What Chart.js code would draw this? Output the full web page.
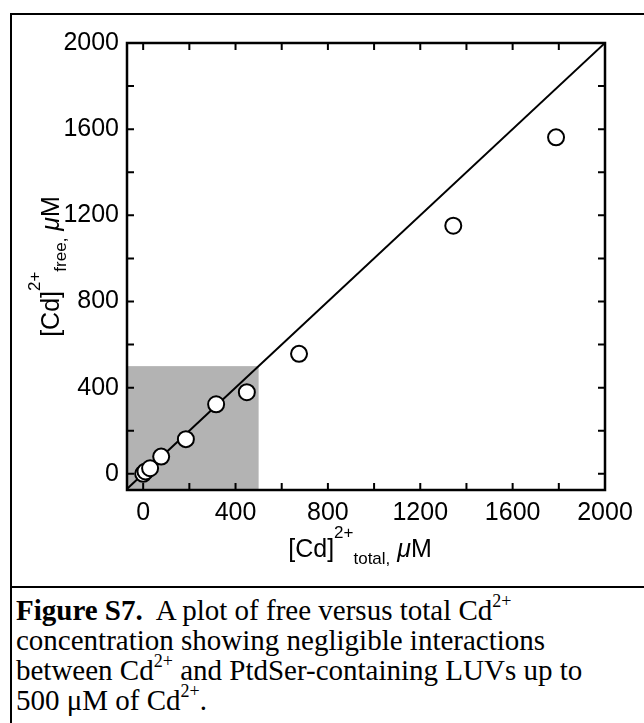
<!DOCTYPE html>
<html>
<head>
<meta charset="utf-8">
<script src="https://cdn.jsdelivr.net/npm/chart.js@4.4.1/dist/chart.umd.min.js"></script>
<style>
  html, body { margin: 0; padding: 0; background: #fff; }
  body { width: 644px; height: 723px; position: relative; overflow: hidden; }
  #chart { position: absolute; left: 0; top: 0; }
  #frame { position: absolute; left: 10px; top: 13px; width: 700px; height: 760px; border: 2px solid #000; }
  #sep { position: absolute; left: 10px; top: 586px; width: 640px; height: 2px; background: #000; }
  #caption { position: absolute; left: 16px; top: 595px; font-family: "Liberation Serif", "Times New Roman", serif;
             font-size: 29px; line-height: 30px; white-space: nowrap; color: #000; }
  #caption sup { font-size: 18px; line-height: 0; position: relative; top: -13px; vertical-align: baseline; }
</style>
</head>
<body>
<div id="frame"></div>
<div id="sep"></div>
<canvas id="chart" width="644" height="587"></canvas>
<div id="caption"><b>Figure S7.</b>&nbsp; A plot of free versus total Cd<sup>2+</sup><br>concentration showing negligible interactions<br>between Cd<sup>2+</sup> and PtdSer-containing LUVs up to<br>500 μM of Cd<sup>2+</sup>.</div>
<script>
// [Cd]2+ total vs free, uM
const totalCd = [0, 10, 30, 78, 185, 316, 449, 675, 1343, 1788];
const freeCd = [0, 11, 26, 80, 161, 323, 379, 557, 1152, 1562];
const tickValues = [0, 200, 400, 600, 800, 1000, 1200, 1400, 1600, 1800, 2000];
const labelStep = 400;
const shadeLimit = 500;

const sans = '"Liberation Sans", Arial, sans-serif';

let points = []
for (let i = 0; i < totalCd.length; i++)
    points.push({x: totalCd[i], y: freeCd[i]})

function setTicks(scale) {
    scale.ticks = tickValues.map(v => ({value: v}))
}

function tickLabel(v) {
    return v % labelStep === 0 ? String(v) : ''
}

function drawRich(ctx, pieces) {
    let w = 0
    for (const p of pieces) {
        ctx.font = p.f
        w += ctx.measureText(p.t).width
    }
    let x = -w / 2
    for (const p of pieces) {
        ctx.font = p.f
        ctx.fillText(p.t, x, p.dy || 0)
        x += ctx.measureText(p.t).width
    }
}

function titlePieces(sub) {
    return [
        {t: '[Cd]', f: '25px ' + sans},
        {t: '2+', f: '17px ' + sans, dy: -19},
        {t: sub + ',', f: '17px ' + sans, dy: 7},
        {t: ' ', f: '25px ' + sans},
        {t: 'μ', f: 'italic 25px ' + sans},
        {t: 'M', f: '25px ' + sans}
    ]
}

const framePlugin = {
    id: 'framePlugin',
    beforeDatasetsDraw(chart) {
        const {ctx, chartArea, scales} = chart
        const x0 = chartArea.left
        const x1 = scales.x.getPixelForValue(shadeLimit)
        const y1 = scales.y.getPixelForValue(shadeLimit)
        ctx.save()
        ctx.fillStyle = '#b3b3b3'
        ctx.fillRect(x0, y1, x1 - x0, chartArea.bottom - y1)
        ctx.restore()
    },
    afterDatasetsDraw(chart) {
        const {ctx, chartArea, scales} = chart
        const len = 7
        ctx.save()
        ctx.strokeStyle = '#000'
        ctx.lineWidth = 2
        ctx.beginPath()
        for (const v of tickValues) {
            const px = scales.x.getPixelForValue(v)
            ctx.moveTo(px, chartArea.bottom); ctx.lineTo(px, chartArea.bottom - len)
            ctx.moveTo(px, chartArea.top); ctx.lineTo(px, chartArea.top + len)
            const py = scales.y.getPixelForValue(v)
            ctx.moveTo(chartArea.left, py); ctx.lineTo(chartArea.left + len, py)
            ctx.moveTo(chartArea.right, py); ctx.lineTo(chartArea.right - len, py)
        }
        ctx.stroke()
        ctx.lineWidth = 2.5
        ctx.strokeRect(chartArea.left, chartArea.top, chartArea.right - chartArea.left, chartArea.bottom - chartArea.top)
        ctx.restore()
    },
    afterDraw(chart) {
        const {ctx, chartArea} = chart
        ctx.save()
        ctx.fillStyle = '#000'
        ctx.textBaseline = 'alphabetic'
        ctx.textAlign = 'left'
        // x title
        ctx.save()
        ctx.translate((chartArea.left + chartArea.right) / 2 - 6, 557)
        drawRich(ctx, titlePieces('total'))
        ctx.restore()
        // y title
        ctx.save()
        ctx.translate(59, (chartArea.top + chartArea.bottom) / 2)
        ctx.rotate(-Math.PI / 2)
        drawRich(ctx, titlePieces('free'))
        ctx.restore()
        ctx.restore()
    }
}

const data = {
    datasets: [{
            label: 'points',
            data: points,
            pointRadius: 8,
            pointBorderWidth: 2,
            pointBackgroundColor: '#fff',
            pointBorderColor: '#000',
            showLine: false
        }, {
            label: 'y = x',
            data: [{x: -75, y: -75}, {x: 2000, y: 2000}],
            showLine: true,
            borderColor: '#000',
            borderWidth: 2,
            pointRadius: 0
        }]
};

const config = {
    type: 'scatter',
    data: data,
    options: {
        responsive: false,
        animation: false,
        layout: {padding: {left: 0, top: 43, right: 39, bottom: 0}},
        plugins: {legend: {display: false}, tooltip: {enabled: false}},
        scales: {
            x: {
                type: 'linear',
                min: -70, max: 2000,
                afterBuildTicks: setTicks,
                afterFit(scale) { scale.height = 97 },
                grid: {display: false, drawTicks: false},
                border: {display: false},
                ticks: {callback: tickLabel, padding: 8, color: '#000', maxRotation: 0, autoSkip: false,
                        font: {family: sans, size: 25}}
            },
            y: {
                type: 'linear',
                min: -75, max: 2000,
                afterBuildTicks: setTicks,
                afterFit(scale) { scale.width = 127 },
                grid: {display: false, drawTicks: false},
                border: {display: false},
                ticks: {callback: tickLabel, padding: 8, color: '#000', autoSkip: false,
                        font: {family: sans, size: 25}}
            }
        }
    },
    plugins: [framePlugin]
};

let ctx = document.getElementById('chart').getContext('2d')

new Chart(ctx, config)
</script>
</body>
</html>
